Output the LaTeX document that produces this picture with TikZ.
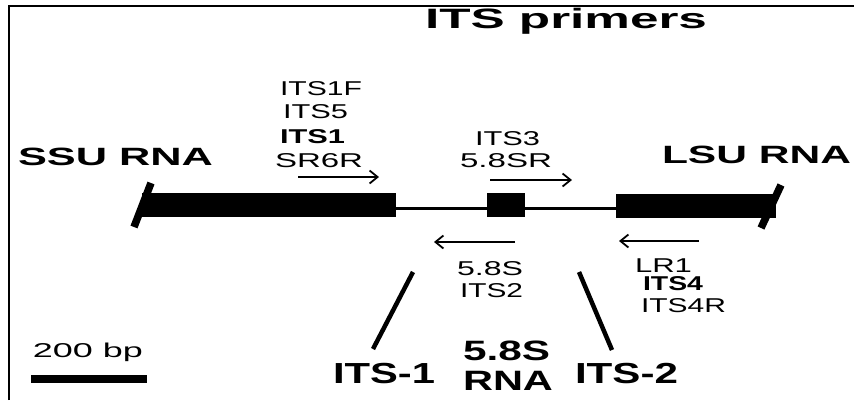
\documentclass[tikz,border=0pt]{standalone}
\usepackage{fontspec}
\usepackage{graphicx}
\setmainfont{Liberation Sans}
\usetikzlibrary{arrows.meta}

% set a label at a given printed width, keeping its natural height
\newcommand{\fitw}[2]{\resizebox{#1pt}{\height}{#2}}

\tikzset{
  lbl/.style={anchor=base west, inner sep=0pt, outer sep=0pt,
              font=\fontsize{20}{24}\selectfont},
  lblbold/.style={lbl, font=\fontsize{20}{24}\selectfont\bfseries},
  bigbold/.style={anchor=base west, inner sep=0pt, outer sep=0pt,
                  font=\fontsize{#1}{#1}\selectfont\bfseries},
  rrna/.style={draw=none, fill=black, inner sep=0pt, outer sep=0pt},
  slantend/.style={line width=7.5pt, line cap=butt},
  spacer/.style={line width=3pt},
  zoomline/.style={line width=4.5pt, line cap=butt},
  primer/.style={line width=1.6pt,
                 -{Straight Barb[length=8pt,width=13pt,line width=1.8pt]}},
  frame/.style={line width=2.2pt}
}

\begin{document}
\begin{tikzpicture}[x=1pt,y=-1pt]
\useasboundingbox (0,0) rectangle (854,400);

% frame (top and left edges)
\draw[frame] (9,400) -- (9,6) -- (854,6);

% title
\node[bigbold=28] (title) at (425,28) {\fitw{282}{ITS primers}};

% gene regions
\node[bigbold=25] (ssulbl) at (18,165) {\fitw{195}{SSU RNA}};
\node[bigbold=25] (lsulbl) at (662,163) {\fitw{189}{LSU RNA}};

% rRNA blocks
\node[rrna, minimum width=254pt, minimum height=24pt, anchor=north west] (ssu) at (142,193) {};
\node[rrna, minimum width=38pt, minimum height=24pt, anchor=north west] (rna58) at (487,193) {};
\node[rrna, minimum width=160pt, minimum height=24pt, anchor=north west] (lsu) at (616,194) {};

% truncated ends of SSU and LSU
\coordinate (ssuTop) at (151,183);
\coordinate (ssuBot) at (134,227);
\coordinate (lsuTop) at (781,185);
\coordinate (lsuBot) at (761,228);
\draw[slantend] (ssuBot) -- (ssuTop);
\draw[slantend] (lsuBot) -- (lsuTop);

% ITS1 and ITS2 spacers
\draw[spacer] ([yshift=-3pt]ssu.east) -- ([yshift=-3pt]rna58.west);
\draw[spacer] ([yshift=-3pt]rna58.east) -- ([yshift=-2pt]lsu.west);

% forward primers
\node[lbl] (its1f) at (280,95) {\fitw{82}{ITS1F}};
\node[lbl] (its5) at (283,118) {\fitw{65}{ITS5}};
\node[lblbold] (its1) at (280,143) {\fitw{65}{ITS1}};
\node[lbl] (sr6r) at (275,167) {\fitw{88}{SR6R}};
\coordinate (f1a) at (298,177);
\coordinate (f1b) at (379,177);
\draw[primer] (f1a) -- (f1b);

\node[lbl] (its3) at (475,145) {\fitw{65}{ITS3}};
\node[lbl] (s58r) at (460,167) {\fitw{92}{5.8SR}};
\coordinate (f2a) at (490,180);
\coordinate (f2b) at (572,180);
\draw[primer] (f2a) -- (f2b);

% reverse primers
\coordinate (r1a) at (515,242);
\coordinate (r1b) at (434,242);
\draw[primer] (r1a) -- (r1b);
\node[lbl] (s58) at (457,275) {\fitw{66}{5.8S}};
\node[lbl] (its2) at (460,297) {\fitw{63}{ITS2}};

\coordinate (r2a) at (699,241);
\coordinate (r2b) at (619,241);
\draw[primer] (r2a) -- (r2b);
\node[lbl] (lr1) at (635,272) {\fitw{57}{LR1}};
\node[lblbold] (its4) at (643,290) {\fitw{60}{ITS4}};
\node[lbl] (its4r) at (641,312) {\fitw{85}{ITS4R}};

% region labels below
\coordinate (z1a) at (413,272);
\coordinate (z1b) at (373,349);
\coordinate (z2a) at (579,272);
\coordinate (z2b) at (612,350);
\draw[zoomline] (z1a) -- (z1b);
\draw[zoomline] (z2a) -- (z2b);
\node[bigbold=29] (itsone) at (333,383) {\fitw{102}{ITS-1}};
\node[bigbold=29] (itstwo) at (575,383) {\fitw{103}{ITS-2}};
\node[bigbold=28] (rnaA) at (463,360) {\fitw{87}{5.8S}};
\node[bigbold=28] (rnaB) at (463,390) {\fitw{90}{RNA}};

% scale bar
\node[lbl] (bp) at (33,357) {\fitw{110}{200 bp}};
\coordinate (sb1) at (31,379);
\coordinate (sb2) at (147,379);
\draw[line width=8pt] (sb1) -- (sb2);
\end{tikzpicture}
\end{document}
